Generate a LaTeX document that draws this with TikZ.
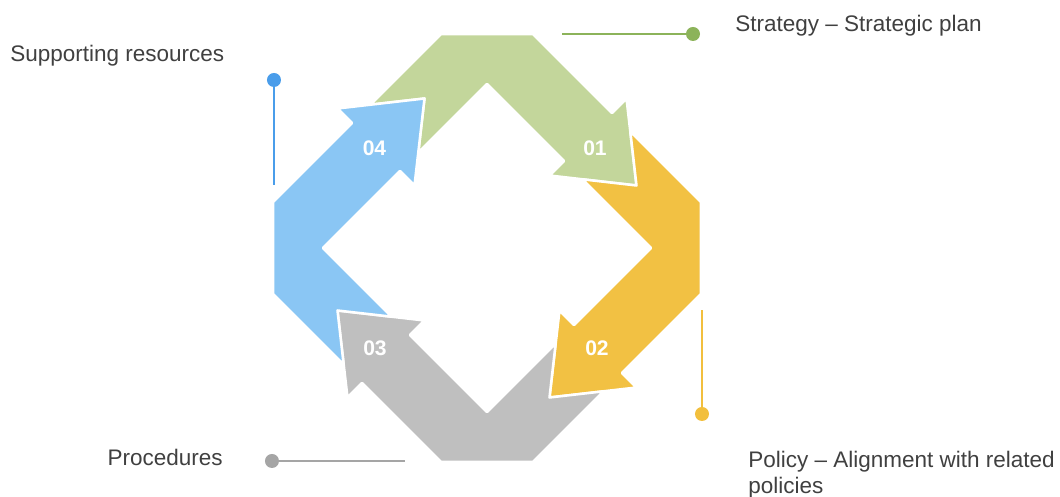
\documentclass[tikz,border=0pt]{standalone}
\usepackage{fontspec}
\setmainfont{Liberation Sans}

\definecolor{bandgreen}{HTML}{C3D69B}
\definecolor{bandyellow}{HTML}{F2C143}
\definecolor{bandgrey}{HTML}{BFBFBF}
\definecolor{bandblue}{HTML}{8AC6F4}
\definecolor{dotgreen}{HTML}{8CB35A}
\definecolor{dotyellow}{HTML}{F2BF3D}
\definecolor{dotgrey}{HTML}{A5A5A5}
\definecolor{dotblue}{HTML}{4A9DEA}
\definecolor{textgray}{HTML}{404040}

\begin{document}
\begin{tikzpicture}[x=0.025cm,y=0.025cm]

  \tikzstyle{band}=[draw=white,line width=1.8pt,line join=round]
  \tikzstyle{numtext}=[text=white,font=\fontsize{15}{18}\selectfont\bfseries]
  \tikzstyle{notetext}=[text=textgray,inner sep=0pt,
    font=\fontsize{16}{19}\selectfont]
  \tikzstyle{enddot}=[circle,inner sep=0pt,minimum size=0.35cm]
  \tikzstyle{leader}=[line width=1.4pt]

  \useasboundingbox (-487,-249) rectangle (573,248);

  % the four bent arrows, one per quarter
  \foreach \ang/\col in {0/bandgreen,-90/bandyellow,-180/bandgrey,-270/bandblue}
  {
    \filldraw[band,fill=\col,rotate=\ang]
      (-116.7,143.3) -- (-46,214) -- (46,214) -- (125,135)
      -- (139.5,149.5) -- (149.5,62.5) -- (62.5,72.5) -- (77,87)
      -- (0,164) -- (-68.7,95.3) -- (-62.5,149.5) -- cycle;
  }

  \node(Num01)[numtext] at (108,99.5){01};
  \node(Num02)[numtext] at (110,-100){02};
  \node(Num03)[numtext] at (-112,-100){03};
  \node(Num04)[numtext] at (-112.5,99.5){04};

  % callouts
  \node(StrategyDot)[enddot,fill=dotgreen] at (206,214){};
  \coordinate(StrategyEnd) at (75,214);
  \draw [leader,dotgreen] (StrategyDot)--(StrategyEnd);
  \node(Strategy)[notetext,anchor=base west] at (248,216)
    {Strategy – Strategic plan};

  \node(PolicyDot)[enddot,fill=dotyellow] at (215,-166){};
  \coordinate(PolicyEnd) at (215,-62);
  \draw [leader,dotyellow] (PolicyDot)--(PolicyEnd);
  \node(Policy)[notetext,anchor=north west,align=left] at (261,-202.5)
    {Policy – Alignment with related\\policies};

  \node(ProcDot)[enddot,fill=dotgrey] at (-215,-213){};
  \coordinate(ProcEnd) at (-82,-213);
  \draw [leader,dotgrey] (ProcDot)--(ProcEnd);
  \node(Proc)[notetext,anchor=base east] at (-264,-218){Procedures};

  \node(ResDot)[enddot,fill=dotblue] at (-213,168){};
  \coordinate(ResEnd) at (-213,63);
  \draw [leader,dotblue] (ResDot)--(ResEnd);
  \node(Res)[notetext,anchor=base west] at (-477,186)
    {Supporting resources};

\end{tikzpicture}
\end{document}
